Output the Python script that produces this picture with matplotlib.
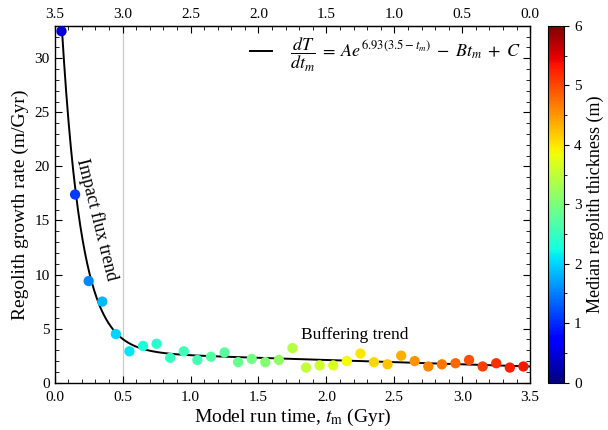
import numpy as np
import matplotlib
matplotlib.use("Agg")
import matplotlib.pyplot as plt
from matplotlib.ticker import MultipleLocator, FixedLocator

plt.rcParams['font.family'] = ['Liberation Serif', 'DejaVu Serif']
plt.rcParams['mathtext.fontset'] = 'stix'

# model run time bins (Gyr)
t_model = [0.05, 0.15, 0.25, 0.35, 0.45, 0.55, 0.65, 0.75, 0.85, 0.95,
           1.05, 1.15, 1.25, 1.35, 1.45, 1.55, 1.65, 1.75, 1.85, 1.95,
           2.05, 2.15, 2.25, 2.35, 2.45, 2.55, 2.65, 2.75, 2.85, 2.95,
           3.05, 3.15, 3.25, 3.35, 3.45]
# regolith growth rate (m/Gyr)
growth_rate = [32.5, 17.4, 9.4, 7.5, 4.5, 2.9, 3.4, 3.6, 2.3, 2.9,
               2.1, 2.4, 2.8, 1.9, 2.2, 1.9, 2.1, 3.2, 1.4, 1.6,
               1.6, 2.0, 2.7, 1.9, 1.7, 2.5, 2.0, 1.5, 1.7, 1.8,
               2.1, 1.5, 1.8, 1.4, 1.5]
# median regolith thickness (m)
thickness = [0.45, 1.1, 1.55, 1.85, 2.0, 2.1, 2.3, 2.4, 2.5, 2.55,
             2.6, 2.7, 2.75, 2.85, 2.95, 3.05, 3.15, 3.4, 3.5, 3.6,
             3.7, 3.85, 4.0, 4.1, 4.2, 4.35, 4.5, 4.6, 4.7, 4.8,
             4.95, 5.05, 5.15, 5.25, 5.3]

# fit parameters
A = 1.26e-9
B = 0.4
C = 2.9
k = 6.93
t_end = 3.5

fig = plt.figure(figsize=(6.08, 4.3), dpi=100)
ax = fig.add_axes([0.09, 0.11, 0.782, 0.83])

ax.axvline(0.5, color='#cccccc', lw=0.9, zorder=0)

t_fit = np.linspace(0.05, t_end, 400)
fit = A * np.exp(k * (t_end - t_fit)) - B * t_fit + C
ax.plot(t_fit, fit, color='black', lw=1.4, zorder=2,
        label=r'$\dfrac{dT}{dt_m} \;=\; Ae^{6.93(3.5-t_m)} \;-\; Bt_m \;+\; C$')

sc = ax.scatter(t_model, growth_rate, c=thickness, cmap='jet', vmin=0, vmax=6,
                s=55, edgecolors='none', zorder=3)

ax.set_xlim(0, 3.5)
ax.set_ylim(0, 33)
ax.xaxis.set_major_locator(MultipleLocator(0.5))
ax.xaxis.set_minor_locator(MultipleLocator(0.1))
ax.yaxis.set_major_locator(MultipleLocator(5))
ax.yaxis.set_minor_locator(MultipleLocator(1))
ax.tick_params(which='both', direction='in', right=True, labelsize=11)
ax.tick_params(which='major', length=5)
ax.tick_params(which='minor', length=3)
ax.tick_params(axis='x', pad=6)
for s in ax.spines.values():
    s.set_linewidth(1.0)

ax.set_xlabel(r'Model run time, $t_\mathrm{m}$ (Gyr)', fontsize=14, labelpad=2)
ax.set_ylabel('Regolith growth rate (m/Gyr)', fontsize=14, labelpad=4)

top = ax.secondary_xaxis('top', functions=(lambda t: t_end - t, lambda a: t_end - a))
top.xaxis.set_major_locator(FixedLocator(np.arange(0, 3.51, 0.5)))
top.xaxis.set_minor_locator(FixedLocator(np.arange(0, 3.51, 0.1)))
top.tick_params(which='both', direction='in', labelsize=11)
top.tick_params(which='major', length=5)
top.tick_params(which='minor', length=3)

ax.text(0.31, 15.1, 'Impact flux trend', rotation=-76, fontsize=13,
        ha='center', va='center')
ax.text(2.21, 4.4, 'Buffering trend', fontsize=12.5, ha='center', va='center')

ax.legend(loc='upper right', frameon=False, fontsize=13, handlelength=1.2,
          borderaxespad=0.15, handletextpad=1.0)

cax = fig.add_axes([0.902, 0.11, 0.026, 0.83])
cb = fig.colorbar(sc, cax=cax)
cb.set_ticks(range(0, 7))
cb.ax.yaxis.set_minor_locator(MultipleLocator(0.5))
cb.ax.tick_params(which='both', labelsize=11)
cb.set_label('Median regolith thickness (m)', fontsize=13)
cb.outline.set_linewidth(0.8)

fig.savefig('out.png', dpi=100)
